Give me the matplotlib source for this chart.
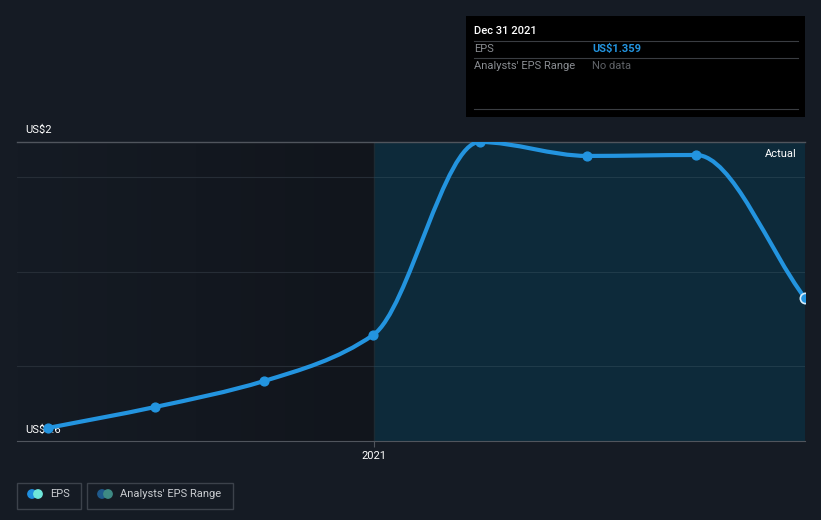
import matplotlib
matplotlib.use("Agg")
import matplotlib.pyplot as plt
import matplotlib.dates as mdates
from matplotlib.path import Path
from matplotlib.patches import PathPatch, Rectangle
import numpy as np

plt.rcParams['font.family'] = ['Roboto', 'DejaVu Sans']

# EPS per quarter (US$)
dates = ["2020-03-31", "2020-06-30", "2020-09-30", "2020-12-31",
         "2021-03-31", "2021-06-30", "2021-09-30", "2021-12-31"]
eps = [0.669, 0.781, 0.919, 1.163, 2.188, 2.114, 2.119, 1.359]
grid_vals = [1.0, 1.5, 2.0]
y_min, y_max = 0.6, 2.188
x_start, x_end = "2020-03-05", "2021-12-31"
actual_start = "2021-01-01"

BG = "#151b24"
LINE = "#2394df"

x = mdates.datestr2num(dates)
y = np.array(eps)


def smooth_path(xs, ys):
    # monotone cubic tangents (Fritsch-Carlson), drawn as bezier segments
    n = len(xs)
    h = np.diff(xs)
    d = np.diff(ys) / h
    m = np.zeros(n)
    m[0], m[-1] = d[0], d[-1]
    for i in range(1, n - 1):
        if d[i - 1] * d[i] <= 0:
            m[i] = 0
        else:
            w1 = 2 * h[i] + h[i - 1]
            w2 = h[i] + 2 * h[i - 1]
            m[i] = (w1 + w2) / (w1 / d[i - 1] + w2 / d[i])
    verts = [(xs[0], ys[0])]
    codes = [Path.MOVETO]
    for i in range(n - 1):
        verts += [(xs[i] + h[i] / 3, ys[i] + m[i] * h[i] / 3),
                  (xs[i + 1] - h[i] / 3, ys[i + 1] - m[i + 1] * h[i] / 3),
                  (xs[i + 1], ys[i + 1])]
        codes += [Path.CURVE4] * 3
    return Path(verts, codes)


fig = plt.figure(figsize=(8.21, 5.20), dpi=100, facecolor=BG)
ax = fig.add_axes([17 / 821, 79 / 520, 788 / 821, 299 / 520])
ax.set_facecolor(BG)

x0, x1 = mdates.datestr2num(x_start), mdates.datestr2num(x_end)
xa = mdates.datestr2num(actual_start)
ax.set_xlim(x0, x1)
ax.set_ylim(y_min, y_max)

# slightly darker gradient in the past region
grad = np.linspace(0, 1, 200).reshape(1, -1)
ax.imshow(grad, extent=[x0, xa, y_min, y_max], aspect='auto', zorder=0,
          cmap=matplotlib.colors.LinearSegmentedColormap.from_list("g", [BG, "#11151c"]))
ax.add_patch(Rectangle((xa, y_min), x1 - xa, y_max - y_min, facecolor="#0d2a3a",
                       edgecolor="none", zorder=0.5))
ax.axvline(xa, color="#1c2a33", lw=1, zorder=0.6)

for g in grid_vals:
    ax.axhline(g, xmax=(xa - x0) / (x1 - x0), color="#262d36", lw=0.8, zorder=1)
    ax.axhline(g, xmin=(xa - x0) / (x1 - x0), color="#1f3b4a", lw=0.8, zorder=1)
ax.axhline(y_max, color="#50555d", lw=1, zorder=1, clip_on=False)

ax.add_patch(PathPatch(smooth_path(x, y), facecolor="none", edgecolor=LINE,
                       lw=3, zorder=3, capstyle='round'))
ax.scatter(x[:-1], y[:-1], s=40, color=LINE, zorder=4)
ax.scatter(x[-1:], y[-1:], s=55, facecolor=LINE, edgecolor="#d8eefc", lw=1.2, zorder=4)

for s in ["top", "left", "right"]:
    ax.spines[s].set_visible(False)
ax.spines["bottom"].set_color("#50555d")
ax.set_yticks([])
ax.set_xticks([mdates.datestr2num("2021-01-01")])
ax.set_xticklabels(["2021"], fontsize=8)
ax.tick_params(axis='x', colors="#50555d", length=4, labelcolor="white", pad=3)

ax.text(8 / 788, 1 + 12 / 299, "US$2", transform=ax.transAxes, color="white",
        fontsize=8, va="center", ha="left")
ax.text(8 / 788, 11 / 299, "US$0.6", transform=ax.transAxes, color="white",
        fontsize=8, va="center", ha="left", zorder=2)
ax.text(1 - 8 / 788, 1 - 12 / 299, "Actual", transform=ax.transAxes, color="white",
        fontsize=8, va="center", ha="right")

# tooltip box
W, H = 821, 520
fig.patches.append(Rectangle((466 / W, 1 - 117 / H), 339 / W, 101 / H,
                             transform=fig.transFigure, facecolor="black",
                             edgecolor="none"))
for yy in [41, 58, 109]:
    fig.add_artist(plt.Line2D([474 / W, 798 / W], [1 - yy / H, 1 - yy / H],
                              color="#3a3d42", lw=0.8))
fig.text(474 / W, 1 - 31 / H, "Dec 31 2021", color="white", fontsize=8,
         va="center", fontweight="medium")
fig.text(474 / W, 1 - 49 / H, "EPS", color="#8a8d92", fontsize=8, va="center")
fig.text(592 / W, 1 - 49 / H, "US$1.359", color="#2394df", fontsize=8,
         va="center", fontweight="bold")
fig.text(474 / W, 1 - 66 / H, "Analysts' EPS Range", color="#8a8d92", fontsize=8,
         va="center")
fig.text(592 / W, 1 - 66 / H, "No data", color="#5f6267", fontsize=8, va="center")

# legend
for (lx, lw_) in [(17, 64), (87, 146)]:
    fig.patches.append(Rectangle((lx / W, 1 - 509 / H), lw_ / W, 26 / H,
                                 transform=fig.transFigure, facecolor="none",
                                 edgecolor="#3c424b", lw=1))
lax = fig.add_axes([0, 0, 1, 1], facecolor="none")
lax.set_xlim(0, W)
lax.set_ylim(H, 0)
lax.axis("off")
lax.scatter([32, 38], [494, 494], s=36, color=["#1f8fe0", "#6ee6da"], zorder=5)
lax.scatter([102, 108], [494, 494], s=36, color=["#1f5a8c", "#3e8a84"], zorder=5)
lax.text(50, 494, "EPS", color="#c9ccd0", fontsize=8, va="center")
lax.text(120, 494, "Analysts' EPS Range", color="#c9ccd0", fontsize=8, va="center")

fig.savefig("out.png", dpi=100, facecolor=BG)
